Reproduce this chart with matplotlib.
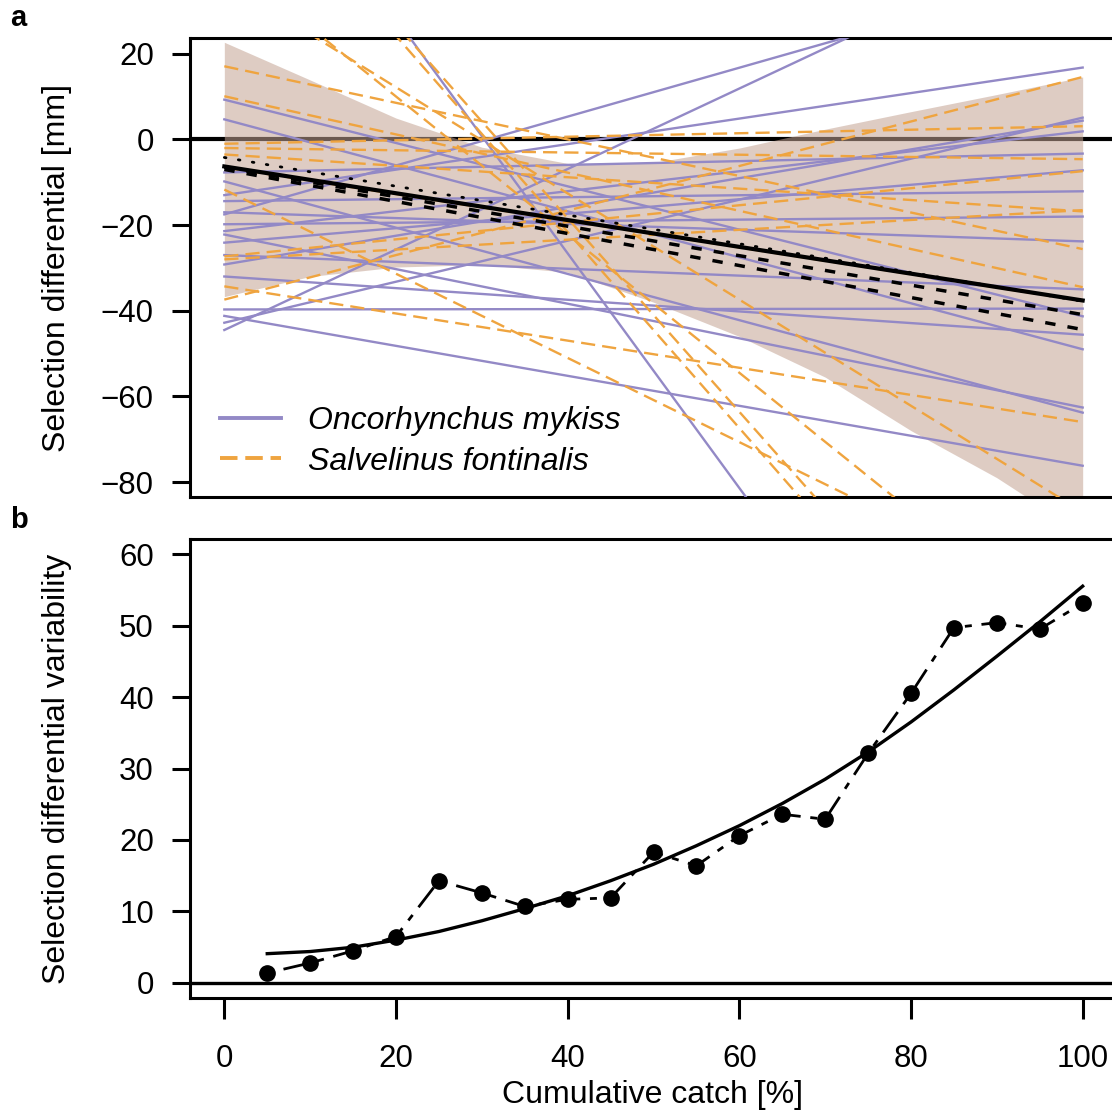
import matplotlib.pyplot as plt
from matplotlib.lines import Line2D

plt.rcParams['font.family'] = ['Liberation Sans', 'DejaVu Sans']

# ---- panel a: per-population selection lines (value at 0 % and 100 % catch)
catch_ends = [0, 100]
mykiss_start = [9.3, 4.7, -7.7, -9.8, -13.0, -14.4, -17.5, -17.0, -19.8, -21.4,
                -22.2, -24.1, -27.0, -29.2, -32.0, -39.7, -41.2, -42.8, -44.5, 83.0]
mykiss_end = [-41.3, -49.0, -3.3, -63.8, 16.8, -12.1, 39.6, -23.8, -18.0, 1.9,
              -62.6, -7.2, -35.0, 4.4, -45.6, -39.5, -76.2, 5.1, 49.5, -191.0]
fontinalis_start = [17.1, 10.1, -1.0, -2.0, -3.5, -6.5, -11.7, -27.3, -28.0,
                    -34.3, -37.4, 37.0, 42.3, 70.0, 72.0]
fontinalis_end = [-25.6, -34.5, 3.1, -4.6, -16.8, -37.7, -110.0, -7.4, -16.5,
                  -66.0, 14.6, -87.0, -119.0, -159.0, -154.0]

# overall fits
fit_solid = [-6.3, -37.6]
fit_dotted = [-4.2, -37.8]
fit_dashed1 = [-6.5, -40.9]
fit_dashed2 = [-7.0, -44.4]

# confidence band
band_x = [0, 10, 20, 30, 40, 50, 60, 70, 80, 90, 100]
band_upper = [22.7, 13.9, 5.0, -1.8, -5.6, -5.4, -2.0, 2.4, 6.5, 10.5, 14.6]
band_lower = [-36.7, -32.0, -29.8, -29.2, -31.0, -38.0, -46.0, -55.5, -68.0, -79.0, -92.0]

# ---- panel b: variability of selection differential
catch_pct = [5, 10, 15, 20, 25, 30, 35, 40, 45, 50, 55, 60, 65, 70, 75, 80, 85, 90, 95, 100]
variability = [1.4, 2.8, 4.5, 6.5, 14.3, 12.6, 10.7, 11.7, 11.9, 18.3,
               16.4, 20.6, 23.6, 22.9, 32.1, 40.5, 49.7, 50.4, 49.5, 53.1]
variability_fit = [4.1, 4.4, 5.0, 6.0, 7.2, 8.7, 10.4, 12.2, 14.3, 16.6,
                   19.2, 22.0, 25.1, 28.5, 32.3, 36.5, 41.0, 45.7, 50.5, 55.5]

purple = '#9389c6'
orange = '#efa43f'
band_col = '#c4a393'

W, H = 1112, 1114
fig = plt.figure(figsize=(W / 100, H / 100), dpi=100)
ax_a = fig.add_axes([190 / W, 1 - 497 / H, 927 / W, 459 / H])
ax_b = fig.add_axes([190 / W, 1 - 998 / H, 927 / W, 459 / H])

# panel a
ax_a.axhline(0, color='black', lw=3, zorder=1)
ax_a.fill_between(band_x, band_lower, band_upper, color=band_col, alpha=0.55,
                  lw=0, zorder=2)
for y0, y1 in zip(mykiss_start, mykiss_end):
    ax_a.plot(catch_ends, [y0, y1], color=purple, lw=1.7, zorder=3)
for y0, y1 in zip(fontinalis_start, fontinalis_end):
    ax_a.plot(catch_ends, [y0, y1], color=orange, lw=1.7, dashes=(6, 3), zorder=3)
ax_a.plot(catch_ends, fit_solid, color='black', lw=3, zorder=5)
ax_a.plot(catch_ends, fit_dotted, color='black', lw=2, dashes=(0.6, 4.5),
          dash_capstyle='round', zorder=5)
ax_a.plot(catch_ends, fit_dashed1, color='black', lw=2.5, dashes=(3, 3.5), zorder=5)
ax_a.plot(catch_ends, fit_dashed2, color='black', lw=2.5, dashes=(3, 3.5), zorder=5)

ax_a.set_xlim(-4, 104)
ax_a.set_ylim(-83.5, 23.7)
ax_a.set_yticks([20, 0, -20, -40, -60, -80])
ax_a.set_yticklabels(['20', '0', '\u221220', '\u221240', '\u221260', '\u221280'])
ax_a.set_xticks([])

handles = [Line2D([], [], color=purple, lw=2.8),
           Line2D([], [], color=orange, lw=2.8, dashes=(4.5, 2))]
ax_a.legend(handles, ['Oncorhynchus mykiss', 'Salvelinus fontinalis'],
            loc='center left', bbox_to_anchor=(30 / 927, (497 - 441.5) / 459),
            frameon=False, prop={'style': 'italic', 'size': 23},
            handlelength=1.9, handletextpad=0.85, labelspacing=0.32,
            borderpad=0, borderaxespad=0)

# panel b
ax_b.axhline(0, color='black', lw=2.4, zorder=1)
ax_b.plot(catch_pct, variability_fit, color='black', lw=2.4, zorder=3)
ax_b.plot(catch_pct, variability, color='black', lw=2, dashes=(2.5, 3.5, 9, 3.5),
          marker='o', ms=11, zorder=4)
ax_b.set_xlim(-4, 104)
ax_b.set_ylim(-2.1, 62.1)
ax_b.set_yticks([0, 10, 20, 30, 40, 50, 60])
ax_b.set_xticks([0, 20, 40, 60, 80, 100])

for ax in (ax_a, ax_b):
    for sp in ax.spines.values():
        sp.set_linewidth(2.2)
    ax.tick_params(direction='out', length=13, width=2.2, labelsize=22.5, pad=13)
ax_b.tick_params(axis='x', length=15, pad=18)

fig.text(57 / W, 1 - 267.5 / H, 'Selection differential [mm]', rotation=90,
         ha='center', va='center', fontsize=23)
fig.text(57 / W, 1 - 768.5 / H, 'Selection differential variability', rotation=90,
         ha='center', va='center', fontsize=23)
fig.text(653 / W, 1 - 1095 / H, 'Cumulative catch [%]', ha='center', va='center',
         fontsize=23)
fig.text(10 / W, 1 - 18 / H, 'a', ha='left', va='center', fontsize=21, weight='bold')
fig.text(10 / W, 1 - 520 / H, 'b', ha='left', va='center', fontsize=21, weight='bold')

fig.savefig('out.png', dpi=100)
